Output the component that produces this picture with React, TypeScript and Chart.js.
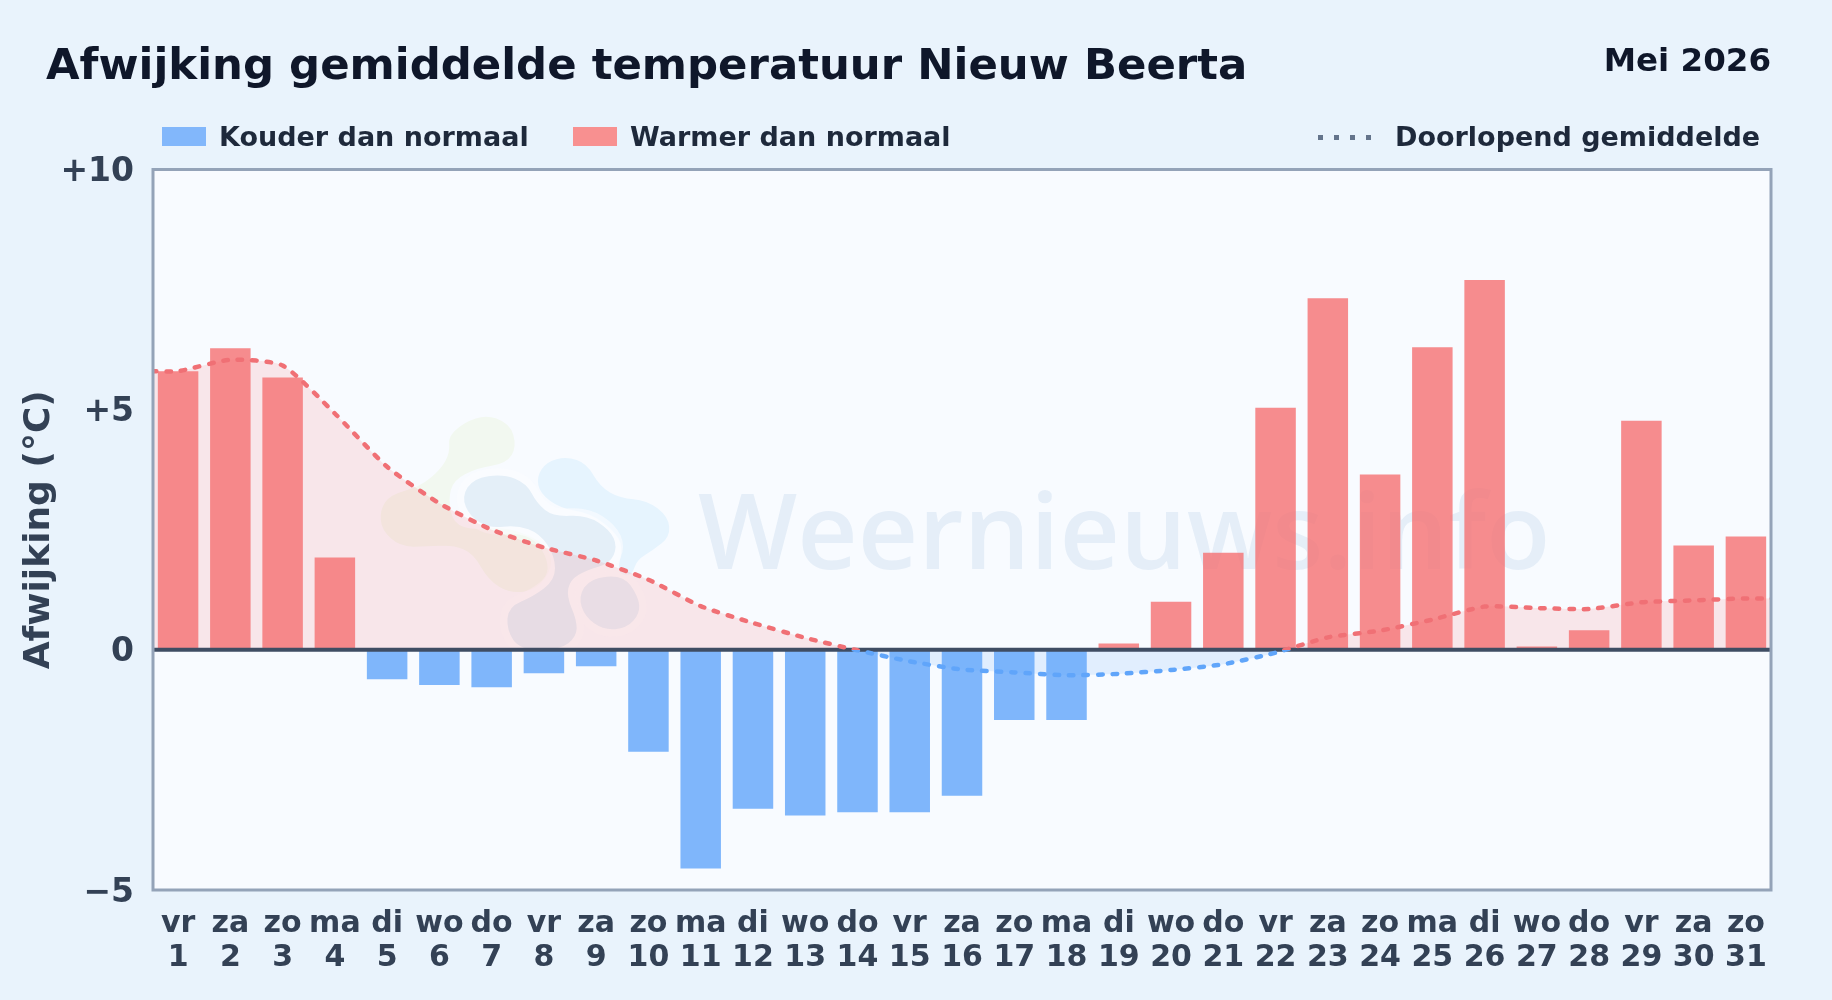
import React, { useEffect, useRef } from "react";
import { Chart, registerables } from "chart.js";

Chart.register(...registerables);

const weekdays = ["vr","za","zo","ma","di","wo","do","vr","za","zo","ma","di","wo","do","vr","za","zo","ma","di","wo","do","vr","za","zo","ma","di","wo","do","vr","za","zo"];
const days = [1,2,3,4,5,6,7,8,9,10,11,12,13,14,15,16,17,18,19,20,21,22,23,24,25,26,27,28,29,30,31];
const deviations = [5.8,6.28,5.67,1.92,-0.61,-0.73,-0.78,-0.49,-0.34,-2.12,-4.55,-3.31,-3.45,-3.38,-3.38,-3.04,-1.46,-1.46,0.13,1.0,2.02,5.04,7.32,3.65,6.3,7.7,0.07,0.41,4.77,2.17,2.36];
const runningX = [0.5,1,2,3,4,5,6,7,8,9,10,11,12,13,14,15,16,17,18,19,20,21,22,23,24,25,26,27,28,29,30,31,31.5];
const runningMean = [5.8,5.8,6.04,5.92,4.92,3.81,3.05,2.5,2.13,1.86,1.46,0.91,0.56,0.25,-0.01,-0.24,-0.41,-0.47,-0.53,-0.5,-0.42,-0.3,-0.06,0.26,0.4,0.63,0.9,0.87,0.85,0.99,1.03,1.07,1.07];
const zeroX = [0.5, 31.5];
const zeroY = [0, 0];
const yTicks = [-5, 0, 5, 10];

const RED = "rgba(245,112,114,0.8)";
const BLUE = "rgba(96,165,250,0.8)";
const SANS = '"DejaVu Sans", sans-serif';

const logoGreen = [[265,100],[365,40],[450,70],[470,140],[440,190],[350,205],[280,240],[265,300],[280,370],[340,390],[440,380],[560,430],[580,500],[530,570],[450,580],[385,540],[340,460],[280,435],[200,440],[120,440],[65,390],[60,330],[90,285],[180,260],[240,210],[270,160]];
const logoLight = [[530,230],[560,185],[620,170],[680,190],[720,260],[780,295],[860,300],[925,350],[930,410],[880,450],[830,480],[815,530],[770,520],[790,440],[760,390],[690,340],[600,325],[540,280]];
const logoMedium = [[305,290],[340,235],[430,222],[500,250],[530,310],[580,350],[680,345],[750,390],[772,440],[750,490],[680,510],[630,540],[620,590],[650,660],[650,710],[600,750],[480,750],[440,690],[445,620],[520,590],[585,540],[585,470],[540,400],[470,375],[390,385],[330,350]];
const logoSmall = [[655,590],[690,535],[790,525],[835,590],[840,640],[800,685],[730,690],[675,650]];

function blobPath(c: CanvasRenderingContext2D, pts: number[][]) {
  const p = pts.map(([x, y]) => [360 + x / 3, 400 + y / 3]);
  const mid = (a: number[], b: number[]) => [(a[0] + b[0]) / 2, (a[1] + b[1]) / 2];
  const s = mid(p[p.length - 1], p[0]);
  c.beginPath();
  c.moveTo(s[0], s[1]);
  p.forEach((q, i) => {
    const m = mid(q, p[(i + 1) % p.length]);
    c.quadraticCurveTo(q[0], q[1], m[0], m[1]);
  });
  c.closePath();
}

function blob(c: CanvasRenderingContext2D, pts: number[][], color: string, halo: boolean) {
  blobPath(c, pts);
  if (halo) {
    c.lineJoin = "round";
    c.strokeStyle = "rgba(250,252,255,0.65)";
    c.lineWidth = 15;
    c.stroke();
  }
  c.fillStyle = color;
  c.fill();
}

const backdrop = {
  id: "backdrop",
  beforeDatasetsDraw(chart: any) {
    const { ctx: c, chartArea: a } = chart;
    c.save();
    c.fillStyle = "#f8fbff";
    c.fillRect(a.left, a.top, a.right - a.left, a.bottom - a.top);
    c.beginPath();
    c.rect(a.left, a.top, a.right - a.left, a.bottom - a.top);
    c.clip();
    blob(c, logoGreen, "#f2f8f0", false);
    blob(c, logoLight, "#e6f4fe", false);
    blob(c, logoSmall, "#e7f0f9", true);
    blob(c, logoMedium, "#e4eff8", true);
    c.fillStyle = "rgba(40,110,170,0.085)";
    c.font = '600 105px "Open Sans", sans-serif';
    c.textBaseline = "alphabetic";
    c.fillText("Weernieuws.info", 698, 569);
    c.restore();
  },
  afterDatasetsDraw(chart: any) {
    const { ctx: c, chartArea: a } = chart;
    c.save();
    c.strokeStyle = "#94a3b8";
    c.lineWidth = 3;
    c.strokeRect(a.left, a.top, a.right - a.left, a.bottom - a.top);
    c.restore();
  },
};

function splitStroke(ctx: any) {
  const chart = ctx.chart;
  const { chartArea: a, scales } = chart;
  if (!a) return "#f07075";
  const g = chart.ctx.createLinearGradient(0, a.top, 0, a.bottom);
  const s = (scales.y.getPixelForValue(0) - a.top) / (a.bottom - a.top);
  g.addColorStop(0, "#f07075");
  g.addColorStop(s, "#f07075");
  g.addColorStop(s, "#60a5fa");
  g.addColorStop(1, "#60a5fa");
  return g;
}

const runningPoints = runningX.map((x, i) => ({ x, y: runningMean[i] }));
const TENSION = 0.2;

function Swatch({ left, color }: { left: number; color: string }) {
  return <div style={{ position: "absolute", left, top: 127, width: 44, height: 19, background: color }} />;
}

function Label({ left, text }: { left: number; text: string }) {
  return (
    <div style={{ position: "absolute", left, top: 120, font: `bold 27px ${SANS}`, lineHeight: "33px", color: "#1e293b", whiteSpace: "nowrap" }}>
      {text}
    </div>
  );
}

export default function App() {
  const ref = useRef<HTMLCanvasElement>(null);
  useEffect(() => {
    const chart = new Chart(ref.current!, {
      type: "bar",
      data: {
        datasets: [
          {
            type: "line",
            label: "Vlak",
            data: runningPoints,
            borderWidth: 0,
            pointRadius: 0,
            tension: TENSION,
            order: 5,
            fill: { target: { value: 0 }, above: "rgba(248,113,113,0.15)", below: "rgba(96,165,250,0.15)" },
          },
          {
            label: "Afwijking",
            data: days.map((x, i) => ({ x, y: deviations[i] })),
            backgroundColor: deviations.map((v) => (v < 0 ? BLUE : RED)),
            borderWidth: 0,
            categoryPercentage: 0.775,
            barPercentage: 1,
            order: 4,
          },
          {
            type: "line",
            label: "Nul",
            data: zeroX.map((x, i) => ({ x, y: zeroY[i] })),
            borderColor: "#3f4d63",
            borderWidth: 4,
            pointRadius: 0,
            order: 3,
          },
          {
            type: "line",
            label: "Doorlopend gemiddelde",
            data: runningPoints,
            borderColor: splitStroke,
            borderWidth: 4.5,
            borderDash: [4.5, 10],
            borderCapStyle: "round",
            pointRadius: 0,
            tension: TENSION,
            fill: false,
            order: 2,
          },
        ],
      } as any,
      options: {
        responsive: false,
        animation: false,
        devicePixelRatio: 1,
        layout: { padding: { top: 169.5, right: 61, left: 0, bottom: 0 } },
        plugins: { legend: { display: false }, title: { display: false }, tooltip: { enabled: false } },
        scales: {
          x: {
            type: "linear",
            min: 0.52,
            max: 31.48,
            offset: false,
            afterBuildTicks(s: any) {
              s.ticks = days.map((value) => ({ value }));
            },
            grid: { display: false },
            border: { display: false },
            ticks: {
              color: "#334155",
              font: { family: SANS, size: 30, weight: "bold", lineHeight: 1.13 },
              maxRotation: 0,
              autoSkip: false,
              padding: 9,
              callback: (v: any) => [weekdays[Number(v) - 1], String(v)],
            },
            afterFit(s: any) {
              s.height = 110;
            },
          },
          y: {
            min: -5,
            max: 10,
            afterBuildTicks(s: any) {
              s.ticks = yTicks.map((value) => ({ value }));
            },
            afterFit(s: any) {
              s.width = 153;
            },
            grid: {
              color: (c: any) => (c.tick && c.tick.value === 5 ? "#e2e8f0" : "transparent"),
              lineWidth: 2,
              drawTicks: false,
            },
            border: { display: false },
            ticks: {
              color: "#334155",
              font: { family: SANS, size: 33, weight: "bold" },
              padding: 19,
              labelOffset: 3,
              callback: (v: any) => (v > 0 ? `+${v}` : v < 0 ? `−${Math.abs(v)}` : "0"),
            },
            title: {
              display: true,
              text: "Afwijking (°C)",
              color: "#334155",
              font: { family: SANS, size: 36, weight: "bold" },
              padding: { top: 18.5, bottom: 0 },
            },
          },
        },
      },
      plugins: [backdrop],
    } as any);
    return () => chart.destroy();
  }, []);

  return (
    <div style={{ position: "fixed", left: 0, top: 0, width: 1832, height: 1000, overflow: "hidden", background: "#e9f3fc" }}>
      <canvas ref={ref} width={1832} height={1000} style={{ position: "absolute", left: 0, top: 0, width: 1832, height: 1000 }} />
      <div style={{ position: "absolute", left: 46, top: 37, font: `bold 43.4px ${SANS}`, lineHeight: "54px", color: "#0f172a", whiteSpace: "nowrap" }}>
        Afwijking gemiddelde temperatuur Nieuw Beerta
      </div>
      <div style={{ position: "absolute", right: 61, top: 40, font: `bold 32.5px ${SANS}`, lineHeight: "40px", color: "#0f172a", whiteSpace: "nowrap" }}>
        Mei 2026
      </div>
      <Swatch left={162} color="#82b7fb" />
      <Label left={219} text="Kouder dan normaal" />
      <Swatch left={573} color="#f89090" />
      <Label left={630} text="Warmer dan normaal" />
      {[1318, 1334, 1350, 1366].map((left) => (
        <div key={left} style={{ position: "absolute", left, top: 134.5, width: 5, height: 5, background: "#64748b" }} />
      ))}
      <Label left={1395} text="Doorlopend gemiddelde" />
    </div>
  );
}
